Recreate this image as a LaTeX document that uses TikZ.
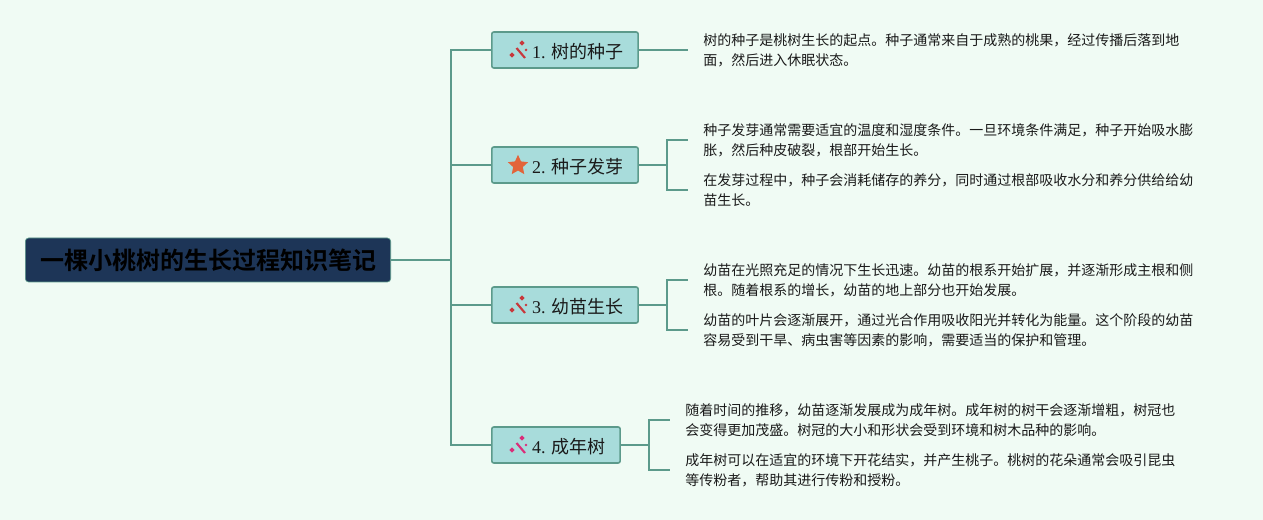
\documentclass[tikz,border=0pt]{standalone}
\usepackage{xcolor}
\usepackage{fontspec}
\usepackage{tikz}
\usetikzlibrary{calc,shapes.geometric}
\setmainfont{Liberation Serif}
\newfontfamily\cjk{Noto Sans CJK SC}
\newfontfamily\cjkbold{Noto Sans CJK SC Bold}
\definecolor{paper}{HTML}{F0FBF4}
\definecolor{navy}{HTML}{1D3557}
\definecolor{aqua}{HTML}{A8DCDB}
\definecolor{branch}{HTML}{5C9A8B}
\definecolor{ink}{HTML}{1A1A1A}
\definecolor{wandred}{HTML}{C8383C}
\definecolor{wandpink}{HTML}{DA2E7A}
\definecolor{starorange}{HTML}{E2643A}
\tikzset{
  rootbox/.style={draw=branch, fill=navy, rounded corners=2.5pt, line width=0.5pt, anchor=west, minimum width=274pt, minimum height=33pt, inner sep=0pt, text=black, font=\cjkbold\fontsize{18}{22}\selectfont},
  topicbox/.style={draw=branch, fill=aqua, rounded corners=1.5pt, line width=1.2pt, anchor=west, minimum height=27pt, inner sep=0pt, text height=12.5pt, text depth=0pt, text=ink, font=\fontsize{13.5}{16}\selectfont},
  note/.style={anchor=west, align=left, inner xsep=11.25pt, inner ysep=0pt, text=ink, font=\cjk\fontsize{10.5}{15}\selectfont, execute at begin node=\rule{0pt}{12pt}},
  link/.style={draw=branch, line width=1.3pt},
  spark/.style={diamond, inner sep=0pt, minimum size=4pt},
  wand/.pic={
    \draw[line width=1.6pt, draw=#1] (-1.5,-2)--(7,8);
    \node[spark, fill=#1] at (-6,5) {};
    \node[spark, fill=#1] at (4,-7) {};
    \node[spark, fill=#1, minimum size=2.4pt] at (8,0) {};
  }
}
\begin{document}
\begin{tikzpicture}[x=0.75pt,y=-0.75pt]
  \fill[paper] (0,0) rectangle (1263,520);
  \useasboundingbox (0,0) rectangle (1263,520);

  \node[rootbox] (root) at (25,260) {一棵小桃树的生长过程知识笔记};

  \node[topicbox, minimum width=109.75pt] (seed) at (491,50) {\hspace*{19.5pt}1. {\cjk 树的种子}};
  \node[topicbox, minimum width=109.75pt] (sprout) at (491,165) {\hspace*{19.5pt}2. {\cjk 种子发芽}};
  \node[topicbox, minimum width=109.75pt] (young) at (491,305) {\hspace*{19.5pt}3. {\cjk 幼苗生长}};
  \node[topicbox, minimum width=96.25pt] (grown) at (491,445) {\hspace*{19.5pt}4. {\cjk 成年树}};

  \pic at (518,50) {wand=wandred};
  \node[star, star points=5, star point ratio=2.1, fill=starorange, inner sep=0pt, minimum size=16pt] (starmark) at (518,165.5) {};
  \pic at (518,305) {wand=wandred};
  \pic at (518,445) {wand=wandpink};

  \node[note] (seedA) at (688,50) {树的种子是桃树生长的起点。种子通常来自于成熟的桃果，经过传播后落到地\\面，然后进入休眠状态。};
  \node[note] (sproutA) at (688,140) {种子发芽通常需要适宜的温度和湿度条件。一旦环境条件满足，种子开始吸水膨\\胀，然后种皮破裂，根部开始生长。};
  \node[note] (sproutB) at (688,190) {在发芽过程中，种子会消耗储存的养分，同时通过根部吸收水分和养分供给给幼\\苗生长。};
  \node[note] (youngA) at (688,280) {幼苗在光照充足的情况下生长迅速。幼苗的根系开始扩展，并逐渐形成主根和侧\\根。随着根系的增长，幼苗的地上部分也开始发展。};
  \node[note] (youngB) at (688,330) {幼苗的叶片会逐渐展开，通过光合作用吸收阳光并转化为能量。这个阶段的幼苗\\容易受到干旱、病虫害等因素的影响，需要适当的保护和管理。};
  \node[note] (grownA) at (670,420) {随着时间的推移，幼苗逐渐发展成为成年树。成年树的树干会逐渐增粗，树冠也\\会变得更加茂盛。树冠的大小和形状会受到环境和树木品种的影响。};
  \node[note] (grownB) at (670,470) {成年树可以在适宜的环境下开花结实，并产生桃子。桃树的花朵通常会吸引昆虫\\等传粉者，帮助其进行传粉和授粉。};

  \coordinate (trunk) at (451,260);
  \coordinate (forkB) at (667,165);
  \coordinate (forkC) at (667,305);
  \coordinate (forkD) at (649,445);

  \draw[link] (root.east)--(trunk);
  \foreach \t in {seed,sprout,young,grown}
    \draw[link] (trunk) |- (\t.west);

  \draw[link] (seed.east)--(seedA.west);
  \draw[link] (sprout.east)--(forkB);
  \draw[link] (forkB) |- (sproutA.west);
  \draw[link] (forkB) |- (sproutB.west);
  \draw[link] (young.east)--(forkC);
  \draw[link] (forkC) |- (youngA.west);
  \draw[link] (forkC) |- (youngB.west);
  \draw[link] (grown.east)--(forkD);
  \draw[link] (forkD) |- (grownA.west);
  \draw[link] (forkD) |- (grownB.west);
\end{tikzpicture}
\end{document}
